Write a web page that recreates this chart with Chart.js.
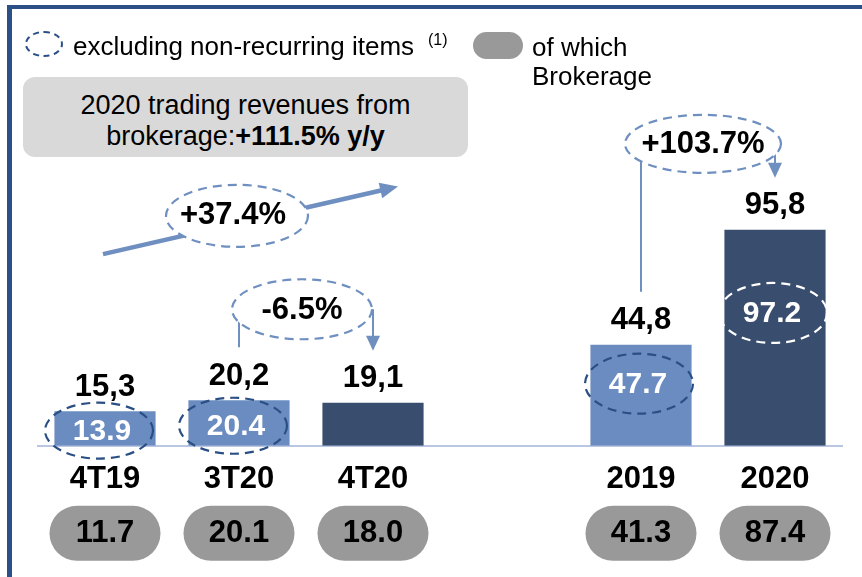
<!DOCTYPE html>
<html>
<head>
<meta charset="utf-8">
<script src="https://cdn.jsdelivr.net/npm/chart.js@4.4.0/dist/chart.umd.min.js"></script>
<style>
  body { margin: 0; background: #fff; font-family: "Liberation Sans", Arial, sans-serif; color: #000; }
  #wrap { position: relative; width: 862px; height: 577px; overflow: hidden; }
  #chart { position: absolute; left: 0; top: 0; }
  #frame { position: absolute; left: 7px; top: 5px; width: 900px; height: 600px;
           border-top: 4px solid #2b5087; border-left: 5px solid #2b5087; }
  .abs { position: absolute; white-space: nowrap; }
  #ring { left: 25px; top: 31px; width: 38px; height: 26px; box-sizing: border-box;
          border: 2px dashed #2a4f85; border-radius: 50%; }
  #legText { left: 73px; top: 31px; font-size: 26px; line-height: 30px; }
  #legNote { left: 428px; top: 31px; font-size: 16px; line-height: 18px; }
  #pill { left: 473px; top: 32px; width: 50px; height: 27px; border-radius: 14px; background: #999; }
  #pillText { left: 532px; top: 33px; font-size: 26px; line-height: 29px; }
  #box { left: 23px; top: 77px; width: 445px; height: 80px; box-sizing: border-box; padding-top: 13px;
         border-radius: 12px; background: #d9d9d9; text-align: center; font-size: 27px; line-height: 31px; }
</style>
</head>
<body>
<div id="wrap">
  <canvas id="chart" width="862" height="577"></canvas>
  <div id="frame"></div>
  <div class="abs" id="ring"></div>
  <div class="abs" id="legText">excluding non-recurring items</div>
  <div class="abs" id="legNote">(1)</div>
  <div class="abs" id="pill"></div>
  <div class="abs" id="pillText">of which<br>Brokerage</div>
  <div class="abs" id="box">2020 trading revenues from<br>brokerage:<b>+111.5% y/y</b></div>
</div>
<script>
// trading revenues (EUR m), quarters then full years; '' is a spacer slot
const categories = ['4T19', '3T20', '4T20', '', '2019', '2020'];
const revenues = [15.3, 20.2, 19.1, null, 44.8, 95.8];
const exclNonRecurring = [13.9, 20.4, null, null, 47.7, 97.2];
const brokerage = [11.7, 20.1, 18.0, null, 41.3, 87.4];
const growthLabels = ['+37.4%', '-6.5%', '+103.7%'];

const FONT = '"Liberation Sans", Arial, sans-serif';
const LIGHT = '#6b8cc0', DARK = '#394d6f', NOTE = '#6f8fc0', RING = '#2a4f85';
const barColors = categories.map(c => (c === '4T20' || c === '2020') ? DARK : LIGHT);

const bold = size => `bold ${size}px ${FONT}`;
const comma = v => v.toFixed(1).replace('.', ',');

function dashedEllipse(ctx, cx, cy, rx, ry, color, fill) {
  ctx.save();
  ctx.beginPath();
  ctx.ellipse(cx, cy, rx, ry, 0, 0, Math.PI * 2);
  if (fill) { ctx.fillStyle = fill; ctx.fill(); }
  ctx.setLineDash([9, 6]);
  ctx.lineWidth = 2.2;
  ctx.strokeStyle = color;
  ctx.stroke();
  ctx.restore();
}

function arrowHead(ctx, x0, y0, x1, y1, len, half) {
  const a = Math.atan2(y1 - y0, x1 - x0);
  ctx.beginPath();
  ctx.moveTo(x1, y1);
  ctx.lineTo(x1 - len * Math.cos(a) + half * Math.sin(a), y1 - len * Math.sin(a) - half * Math.cos(a));
  ctx.lineTo(x1 - len * Math.cos(a) - half * Math.sin(a), y1 - len * Math.sin(a) + half * Math.cos(a));
  ctx.closePath();
  ctx.fill();
}

const overlay = {
  id: 'overlay',
  afterDatasetsDraw(chart) {
    const { ctx, chartArea, scales: { x, y } } = chart;
    const bars = chart.getDatasetMeta(0).data;
    ctx.save();
    ctx.textAlign = 'center';
    ctx.textBaseline = 'middle';

    bars.forEach((bar, i) => {
      if (revenues[i] == null) return;
      const cx = bar.x;
      ctx.fillStyle = '#000';
      ctx.font = bold(31);
      ctx.fillText(comma(revenues[i]), cx, bar.y - 24);

      // brokerage pill under the category label
      const py = chartArea.bottom + 60;
      ctx.fillStyle = '#999';
      ctx.beginPath();
      ctx.roundRect(cx - 55.5, py, 111, 55, 27.5);
      ctx.fill();
      ctx.fillStyle = '#000';
      ctx.fillText(brokerage[i].toFixed(1), cx, py + 28);

      if (exclNonRecurring[i] != null) {
        const quarter = i < 3;
        const iy = y.getPixelForValue(revenues[i] * (quarter ? 0.44 : 0.615));
        dashedEllipse(ctx, cx - (quarter ? 6 : 2), iy, 54, quarter ? 28 : 30,
          barColors[i] === DARK ? '#fff' : RING);
        ctx.fillStyle = '#fff';
        ctx.font = bold(30);
        ctx.fillText(exclNonRecurring[i].toFixed(1), cx - 3, iy + 1);
      }
    });

    // +37.4% trend arrow over the quarters
    const ax0 = x.getPixelForValue(0) - 2, ay0 = y.getPixelForValue(85);
    const ax1 = x.getPixelForValue(2) + 25, ay1 = y.getPixelForValue(115);
    const ang = Math.atan2(ay1 - ay0, ax1 - ax0);
    ctx.strokeStyle = NOTE;
    ctx.fillStyle = NOTE;
    ctx.lineWidth = 4.5;
    ctx.beginPath();
    ctx.moveTo(ax0, ay0);
    ctx.lineTo(ax1 - 12 * Math.cos(ang), ay1 - 12 * Math.sin(ang));
    ctx.stroke();
    arrowHead(ctx, ax0, ay0, ax1, ay1, 18, 8);
    const ex = x.getPixelForValue(1) - 2, ey = y.getPixelForValue(102);
    dashedEllipse(ctx, ex, ey, 71, 31, NOTE, '#fff');
    ctx.fillStyle = '#000';
    ctx.font = bold(31);
    ctx.fillText(growthLabels[0], ex - 4, ey);

    // period-on-period notes: from bar -> to bar
    const notes = [
      { from: 1, to: 2, label: growthLabels[1], rx: 70, ry: 30, lift: 91, dx: -4 },
      { from: 4, to: 5, label: growthLabels[2], rx: 78, ry: 29, lift: 86, dx: -5 }
    ];
    notes.forEach(n => {
      const b0 = bars[n.from], b1 = bars[n.to];
      const cy = Math.min(b0.y, b1.y) - n.lift;
      const cx = (b0.x + b1.x) / 2 + n.dx;
      ctx.strokeStyle = NOTE;
      ctx.fillStyle = NOTE;
      ctx.lineWidth = 2;
      ctx.beginPath();
      ctx.moveTo(b0.x, b0.y - 53);
      ctx.lineTo(b0.x, cy);
      ctx.moveTo(b1.x, cy);
      ctx.lineTo(b1.x, b1.y - 62);
      ctx.stroke();
      arrowHead(ctx, b1.x, cy, b1.x, b1.y - 52, 15, 7);
      dashedEllipse(ctx, cx, cy, n.rx, n.ry, NOTE, '#fff');
      ctx.fillStyle = '#000';
      ctx.font = bold(31);
      ctx.fillText(n.label, cx, cy + 1);
    });
    ctx.restore();
  }
};

new Chart(document.getElementById('chart'), {
  type: 'bar',
  data: {
    labels: categories,
    datasets: [{
      data: revenues,
      backgroundColor: barColors,
      barPercentage: 0.755,
      categoryPercentage: 1
    }]
  },
  options: {
    responsive: false,
    animation: false,
    layout: { padding: { left: 38, right: 20, top: 40, bottom: 64 } },
    plugins: { legend: { display: false }, tooltip: { enabled: false } },
    scales: {
      x: {
        grid: { display: false, drawTicks: false },
        border: { color: '#b9c7e2', width: 2 },
        ticks: { color: '#000', padding: 15, font: { family: FONT, size: 31, weight: 'bold' } }
      },
      y: { display: false, min: 0, max: 180 }
    }
  },
  plugins: [overlay]
});
</script>
</body>
</html>
